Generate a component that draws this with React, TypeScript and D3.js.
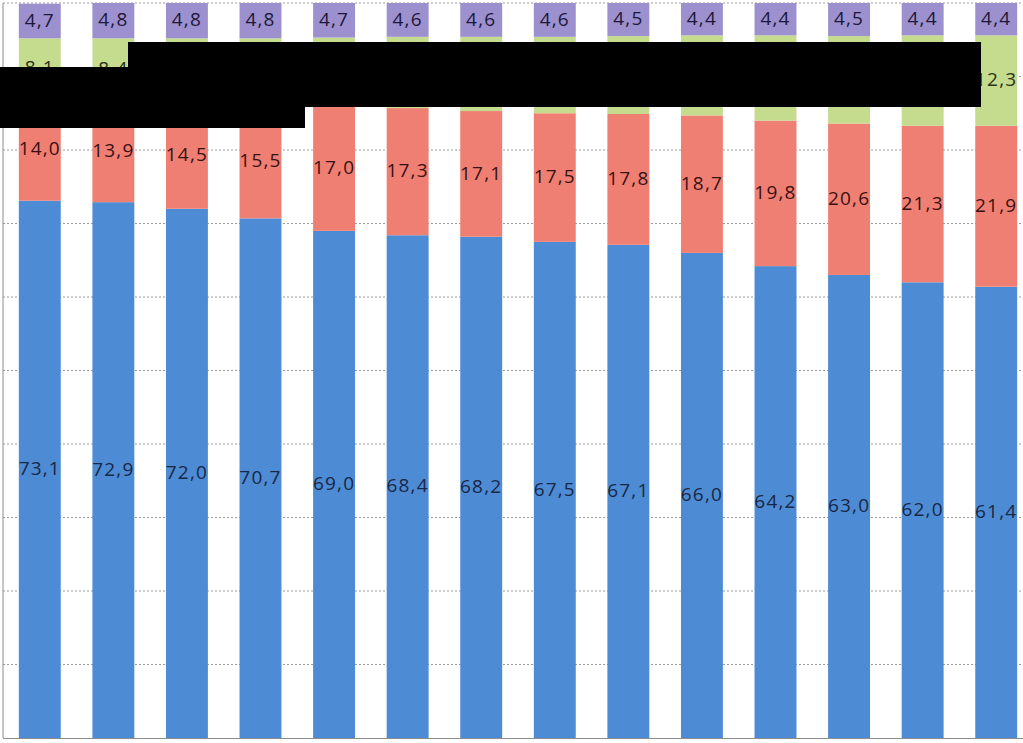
import { useEffect, useRef } from "react";
import * as d3 from "d3";

// 14 bars, categories not visible in the picture
const categories = ["1", "2", "3", "4", "5", "6", "7", "8", "9", "10", "11", "12", "13", "14"];
const seriesNames = ["Serie 1", "Serie 2", "Serie 3", "Serie 4"];

const serie1 = [73.1, 72.9, 72.0, 70.7, 69.0, 68.4, 68.2, 67.5, 67.1, 66.0, 64.2, 63.0, 62.0, 61.4];
const serie2 = [14.0, 13.9, 14.5, 15.5, 17.0, 17.3, 17.1, 17.5, 17.8, 18.7, 19.8, 20.6, 21.3, 21.9];
const serie3 = [8.1, 8.4, 8.7, 9.0, 9.3, 9.7, 10.1, 10.4, 10.6, 10.9, 11.6, 11.9, 12.3, 12.3];
const serie4 = [4.7, 4.8, 4.8, 4.8, 4.7, 4.6, 4.6, 4.6, 4.5, 4.4, 4.4, 4.5, 4.4, 4.4];

const yTicks = [0, 10, 20, 30, 40, 50, 60, 70, 80, 90, 100];

const colors = ["#4d8cd4", "#f07f73", "#c5db8e", "#9c90cf"];
const labelColors = ["#1a2746", "#381212", "#2b3318", "#1c183a"];

function renderChart(element: SVGSVGElement) {
  const W = 1023,
    H = 743;
  const margin = { top: 3, left: 3, bottom: 5 };
  const plotRight = 1033; // plot runs past the right edge of the picture

  const svg = d3.select(element);
  svg.selectAll("*").remove();

  const x = d3
    .scaleBand<string>()
    .domain(categories)
    .range([margin.left, plotRight])
    .paddingInner(0.43)
    .paddingOuter(0.215);

  const y = d3.scaleLinear().domain([0, 100]).range([H - margin.bottom, margin.top]);

  // dotted gridlines
  svg
    .append("g")
    .selectAll("line")
    .data(yTicks.slice(1))
    .join("line")
    .attr("x1", margin.left)
    .attr("x2", plotRight)
    .attr("y1", (d) => y(d))
    .attr("y2", (d) => y(d))
    .attr("stroke", "#9a9a9a")
    .attr("stroke-width", 1)
    .attr("stroke-dasharray", "2,2");

  const rows = categories.map((c, i) => ({
    cat: c,
    s0: serie1[i],
    s1: serie2[i],
    s2: serie3[i],
    s3: serie4[i],
  }));
  const keys = ["s0", "s1", "s2", "s3"];
  const stacked = d3.stack<any>().keys(keys)(rows);

  const layers = svg
    .append("g")
    .selectAll("g")
    .data(stacked)
    .join("g")
    .attr("fill", (_, i) => colors[i]);

  layers
    .selectAll("rect")
    .data((d) => d)
    .join("rect")
    .attr("x", (d: any) => x(d.data.cat)!)
    .attr("width", x.bandwidth())
    .attr("y", (d) => y(d[1]))
    .attr("height", (d) => y(d[0]) - y(d[1]));

  // value labels
  const labels = svg.append("g");
  stacked.forEach((layer, li) => {
    labels
      .append("g")
      .selectAll("text")
      .data(layer)
      .join("text")
      .attr("x", (d: any) => x(d.data.cat)! + x.bandwidth() / 2)
      .attr("y", (d) => (y(d[0]) + y(d[1])) / 2)
      .attr("dy", "0.3em")
      .attr("text-anchor", "middle")
      .attr("font-family", "'Open Sans', sans-serif")
      .attr("font-size", 19)
      .attr("letter-spacing", 1.2)
      .attr("fill", labelColors[li])
      .text((d: any) => d3.format(".1f")(d[1] - d[0]).replace(".", ","));
  });

  // axis lines
  svg
    .append("line")
    .attr("x1", margin.left)
    .attr("x2", margin.left)
    .attr("y1", margin.top)
    .attr("y2", y(0))
    .attr("stroke", "#8c8c8c");
  svg
    .append("line")
    .attr("x1", margin.left)
    .attr("x2", W)
    .attr("y1", y(0) + 0.5)
    .attr("y2", y(0) + 0.5)
    .attr("stroke", "#8c8c8c");

  // black redaction box over the middle of the chart
  svg.append("rect").attr("x", 0).attr("y", 67).attr("width", 305).attr("height", 61).attr("fill", "#000");
  svg.append("rect").attr("x", 128).attr("y", 42).attr("width", 853).attr("height", 65).attr("fill", "#000");
}

export default function App() {
  const ref = useRef<SVGSVGElement>(null);
  useEffect(() => {
    document.body.style.margin = "0";
    if (ref.current) renderChart(ref.current);
  }, []);
  return (
    <svg
      ref={ref}
      width={1023}
      height={743}
      style={{ display: "block", background: "#fff" }}
      aria-label={seriesNames.join(", ")}
    />
  );
}
